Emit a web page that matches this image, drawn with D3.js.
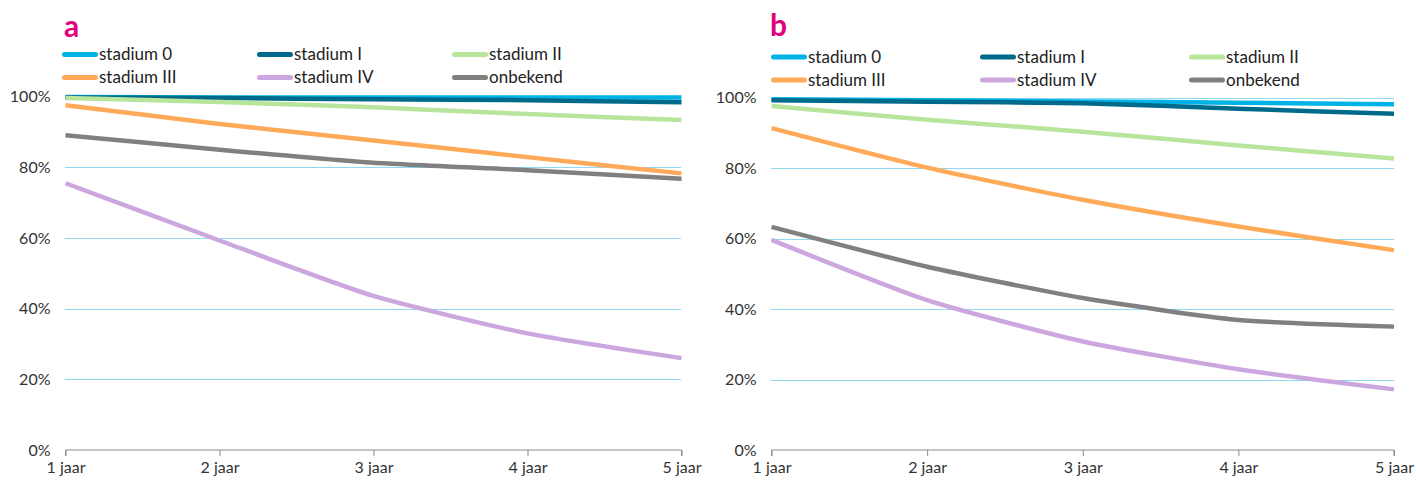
<!DOCTYPE html>
<html>
<head>
<meta charset="utf-8">
<script src="https://cdn.jsdelivr.net/npm/d3@7"></script>
<style>
  html, body { margin: 0; padding: 0; background: #fff; }
  svg { display: block; font-family: Lato, "Noto Sans", sans-serif; }
</style>
</head>
<body>
<svg id="chart" width="1417" height="480"></svg>
<script>
// ---- data ----
const years = ["1 jaar", "2 jaar", "3 jaar", "4 jaar", "5 jaar"];
const seriesNames = ["stadium 0", "stadium I", "stadium II", "stadium III", "stadium IV", "onbekend"];
const seriesColors = ["#00b3e6", "#006a8a", "#b8e59c", "#ffaa58", "#cca6de", "#808080"];
const yTicks = [0, 20, 40, 60, 80, 100];

// panel a
const aStadium0   = [99.9, 99.8, 99.8, 99.8, 99.8];
const aStadiumI   = [99.8, 99.6, 99.3, 99.0, 98.4];
const aStadiumII  = [99.6, 98.5, 97.0, 95.1, 93.4];
const aStadiumIII = [97.6, 92.3, 87.6, 82.9, 78.3];
const aStadiumIV  = [75.5, 59.3, 43.6, 33.0, 26.0];
const aOnbekend   = [89.1, 85.0, 81.3, 79.2, 76.8];

// panel b
const bStadium0   = [99.5, 99.2, 98.9, 98.5, 98.1];
const bStadiumI   = [99.2, 98.8, 98.4, 96.8, 95.4];
const bStadiumII  = [97.6, 93.7, 90.3, 86.4, 82.7];
const bStadiumIII = [91.3, 80.1, 71.0, 63.4, 56.7];
const bStadiumIV  = [59.6, 42.5, 30.8, 22.9, 17.2];
const bOnbekend   = [63.3, 52.0, 43.1, 36.9, 35.0];

const panels = [
  { label: "a", data: [aStadium0, aStadiumI, aStadiumII, aStadiumIII, aStadiumIV, aOnbekend],
    x0: 65.5, x1: 681.5, yTop: 96.7, yBot: 450, titleX: 64, titleY: 37,
    legendX: [62, 257, 452], legendY: [54.5, 77.5] },
  { label: "b", data: [bStadium0, bStadiumI, bStadiumII, bStadiumIII, bStadiumIV, bOnbekend],
    x0: 771.5, x1: 1394, yTop: 97.5, yBot: 450, titleX: 770, titleY: 36,
    legendX: [771, 980, 1189], legendY: [57, 80] }
];

const svg = d3.select("#chart");

panels.forEach(p => {
  const g = svg.append("g");
  const x = d3.scalePoint().domain(years).range([p.x0, p.x1]);
  const y = d3.scaleLinear().domain([0, 100]).range([p.yBot, p.yTop]);

  // gridlines
  g.selectAll("line.grid").data(yTicks.filter(t => t > 0)).join("line")
    .attr("class", "grid")
    .attr("x1", p.x0).attr("x2", p.x1)
    .attr("y1", d => Math.round(y(d)) + 0.5).attr("y2", d => Math.round(y(d)) + 0.5)
    .attr("stroke", "#1fb4e4").attr("stroke-width", 1)
    .attr("stroke-dasharray", "1,1");

  // y labels
  g.selectAll("text.ylab").data(yTicks).join("text")
    .attr("class", "ylab")
    .attr("x", p.x0 - 15).attr("y", d => y(d))
    .attr("dy", "0.35em")
    .attr("text-anchor", "end")
    .attr("font-size", 16).attr("fill", "#333")
    .text(d => d + "%");

  // x axis
  const xAxis = d3.axisBottom(x).tickSize(6).tickPadding(6);
  const ax = g.append("g").attr("transform", `translate(0,${p.yBot})`).call(xAxis);
  ax.select(".domain").attr("stroke", "#8c8c8c").attr("d", `M${p.x0},6V0H${p.x1}V6`);
  ax.selectAll(".tick line").attr("stroke", "#8c8c8c");
  ax.selectAll(".tick text").attr("font-size", 16).attr("fill", "#333")
    .attr("font-family", "Lato, 'Noto Sans', sans-serif");

  // lines
  const line = d3.line()
    .x((d, i) => x(years[i]))
    .y(d => y(d))
    .curve(d3.curveCardinal.tension(0.4));
  p.data.forEach((s, k) => {
    g.append("path")
      .attr("d", line(s))
      .attr("fill", "none")
      .attr("stroke", seriesColors[k])
      .attr("stroke-width", 4.5)
      .attr("stroke-linejoin", "round");
  });

  // title
  g.append("text")
    .attr("x", p.titleX).attr("y", p.titleY)
    .attr("font-size", 30).attr("font-weight", "bold")
    .attr("fill", "#e5007d")
    .text(p.label);

  // legend
  seriesNames.forEach((name, k) => {
    const col = k % 3, row = Math.floor(k / 3);
    const lx = p.legendX[col], ly = p.legendY[row];
    g.append("line")
      .attr("x1", lx + 2.5).attr("x2", lx + 33.5)
      .attr("y1", ly).attr("y2", ly)
      .attr("stroke", seriesColors[k]).attr("stroke-width", 5)
      .attr("stroke-linecap", "round");
    g.append("text")
      .attr("x", lx + 37).attr("y", ly)
      .attr("dy", "0.35em")
      .attr("font-size", 17).attr("fill", "#222")
      .text(name);
  });
});
</script>
</body>
</html>
